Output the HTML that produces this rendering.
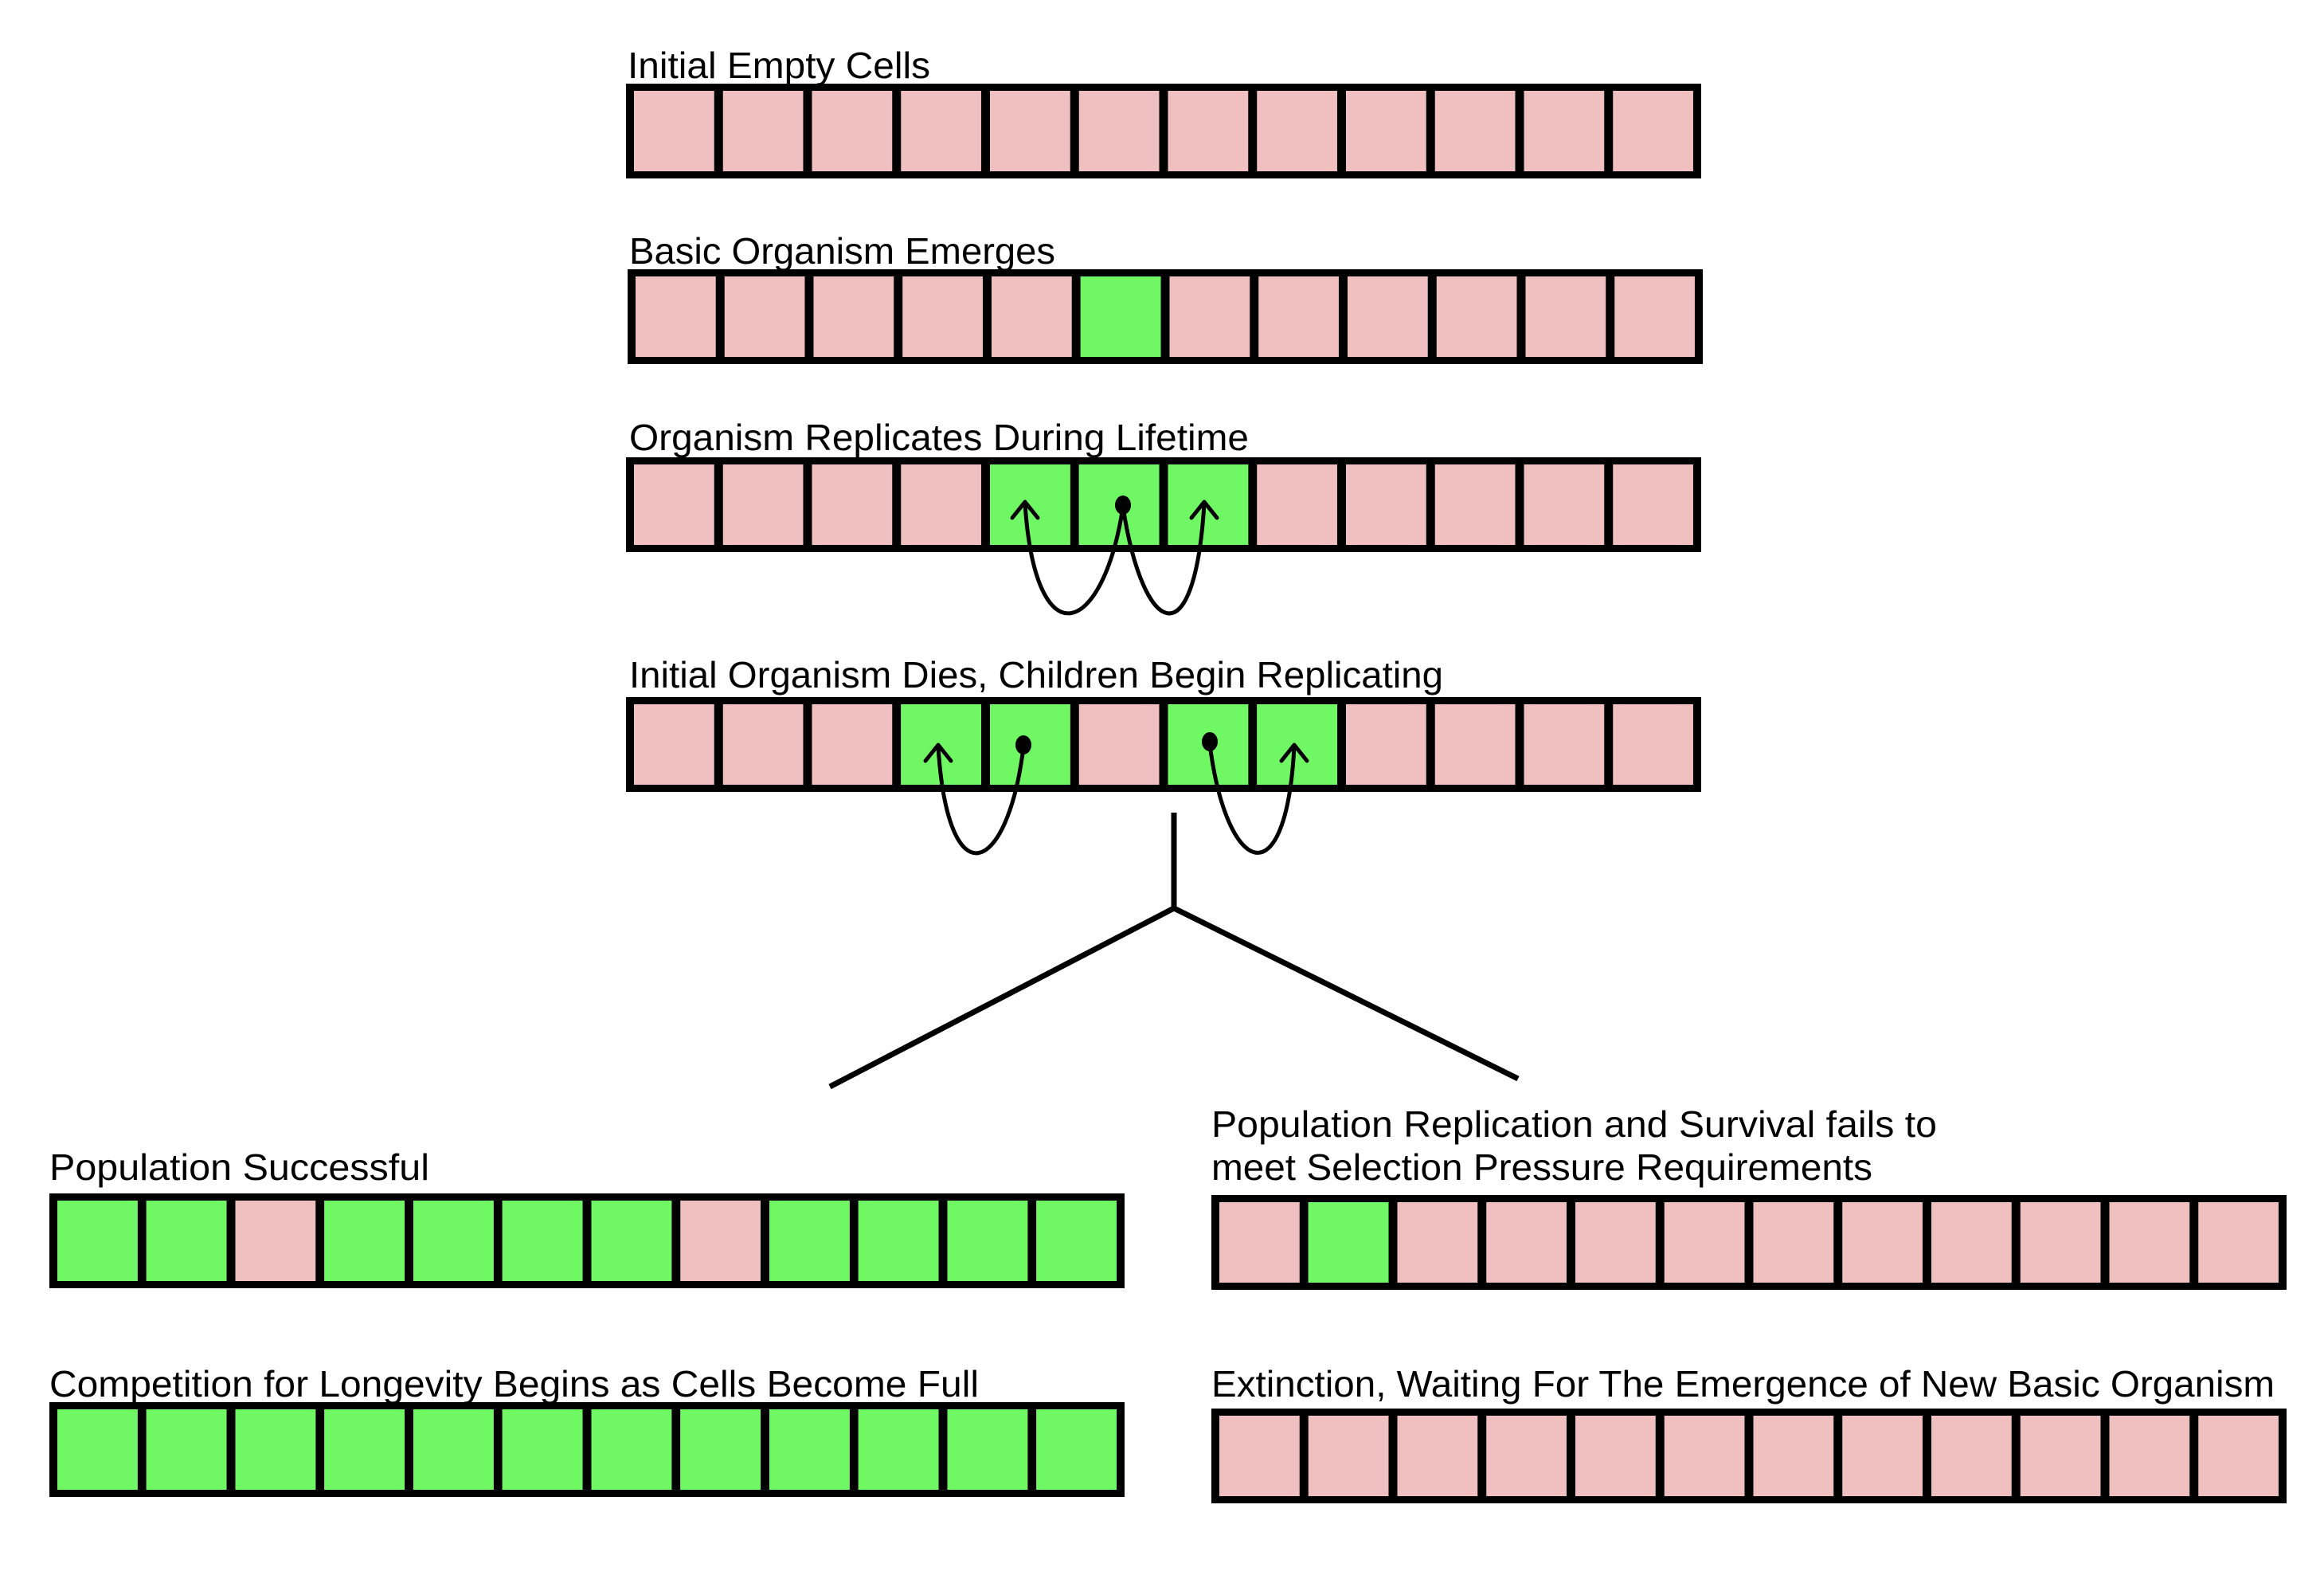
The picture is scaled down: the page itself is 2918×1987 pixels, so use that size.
<!DOCTYPE html>
<html><head><meta charset="utf-8"><style>html,body{margin:0;padding:0;background:#fff}svg{display:block}</style></head>
<body>
<svg width="2918" height="1987" viewBox="0 0 2918 1987" xmlns="http://www.w3.org/2000/svg">
<defs>
<pattern id="p" patternUnits="userSpaceOnUse" x="10" y="0" width="111.75" height="2000">
<rect x="0" y="0" width="100.75" height="2000" fill="#f0c0c0"/>
<rect x="100.75" y="0" width="11" height="2000" fill="#000"/>
</pattern>
<symbol id="bar" overflow="visible">
<rect x="0" y="0" width="1350" height="119" fill="#000"/>
<rect x="10" y="9" width="1330" height="101" fill="url(#p)"/>
</symbol>
</defs>
<g font-family="Liberation Sans, Arial, sans-serif" font-size="46" fill="#000">
<text x="788" y="98" textLength="380" lengthAdjust="spacingAndGlyphs">Initial Empty Cells</text>
<text x="790" y="331" textLength="535" lengthAdjust="spacingAndGlyphs">Basic Organism Emerges</text>
<text x="790" y="565" textLength="778" lengthAdjust="spacingAndGlyphs">Organism Replicates During Lifetime</text>
<text x="790" y="863" textLength="1022" lengthAdjust="spacingAndGlyphs">Initial Organism Dies, Children Begin Replicating</text>
<text x="62" y="1481" textLength="477" lengthAdjust="spacingAndGlyphs">Population Successful</text>
<text x="62" y="1753" textLength="1167" lengthAdjust="spacingAndGlyphs">Competition for Longevity Begins as Cells Become Full</text>
<text x="1521" y="1427" textLength="911" lengthAdjust="spacingAndGlyphs">Population Replication and Survival fails to</text>
<text x="1521" y="1481" textLength="830" lengthAdjust="spacingAndGlyphs">meet Selection Pressure Requirements</text>
<text x="1521" y="1753" textLength="1335" lengthAdjust="spacingAndGlyphs">Extinction, Waiting For The Emergence of New Basic Organism</text>
</g>
<g transform="translate(786,105)"><use href="#bar"/></g>
<g transform="translate(788,338)"><use href="#bar"/>
<rect x="568.75" y="9" width="100.75" height="101" fill="#70f864"/></g>
<g transform="translate(786,574)"><use href="#bar"/>
<rect x="457" y="9" width="100.75" height="101" fill="#70f864"/>
<rect x="568.75" y="9" width="100.75" height="101" fill="#70f864"/>
<rect x="680.5" y="9" width="100.75" height="101" fill="#70f864"/></g>
<g transform="translate(786,875)"><use href="#bar"/>
<rect x="345.25" y="9" width="100.75" height="101" fill="#70f864"/>
<rect x="457" y="9" width="100.75" height="101" fill="#70f864"/>
<rect x="680.5" y="9" width="100.75" height="101" fill="#70f864"/>
<rect x="792.25" y="9" width="100.75" height="101" fill="#70f864"/></g>
<g transform="translate(62,1498)"><use href="#bar"/>
<g fill="#70f864">
<rect x="10" y="9" width="100.75" height="101"/>
<rect x="121.75" y="9" width="100.75" height="101"/>
<rect x="345.25" y="9" width="100.75" height="101"/>
<rect x="457" y="9" width="100.75" height="101"/>
<rect x="568.75" y="9" width="100.75" height="101"/>
<rect x="680.5" y="9" width="100.75" height="101"/>
<rect x="904" y="9" width="100.75" height="101"/>
<rect x="1015.75" y="9" width="100.75" height="101"/>
<rect x="1127.5" y="9" width="100.75" height="101"/>
<rect x="1239.25" y="9" width="100.75" height="101"/>
</g></g>
<g transform="translate(62,1760)"><use href="#bar"/>
<g fill="#70f864">
<rect x="10" y="9" width="100.75" height="101"/>
<rect x="121.75" y="9" width="100.75" height="101"/>
<rect x="233.5" y="9" width="100.75" height="101"/>
<rect x="345.25" y="9" width="100.75" height="101"/>
<rect x="457" y="9" width="100.75" height="101"/>
<rect x="568.75" y="9" width="100.75" height="101"/>
<rect x="680.5" y="9" width="100.75" height="101"/>
<rect x="792.25" y="9" width="100.75" height="101"/>
<rect x="904" y="9" width="100.75" height="101"/>
<rect x="1015.75" y="9" width="100.75" height="101"/>
<rect x="1127.5" y="9" width="100.75" height="101"/>
<rect x="1239.25" y="9" width="100.75" height="101"/>
</g></g>
<g transform="translate(1521,1500)"><use href="#bar"/>
<rect x="121.75" y="9" width="100.75" height="101" fill="#70f864"/></g>
<g transform="translate(1521,1768)"><use href="#bar"/></g>

<g fill="none" stroke="#000" stroke-width="5" stroke-linecap="round" stroke-linejoin="round">
<!-- bar3 loops -->
<path d="M1410 636 C1385 800, 1300 830, 1287 632"/>
<path d="M1410 636 C1435 800, 1500 830, 1512 632"/>
<path d="M1271 650 L1287 630 L1303 650"/>
<path d="M1496 650 L1512 630 L1528 650"/>
<!-- bar4 loops -->
<path d="M1285 938 C1265 1100, 1190 1130, 1178 937"/>
<path d="M1519 934 C1540 1100, 1615 1130, 1625 937"/>
<path d="M1162 955 L1178 935 L1194 955"/>
<path d="M1609 955 L1625 935 L1641 955"/>
</g>
<ellipse cx="1410" cy="634" rx="10" ry="12" fill="#000"/>
<ellipse cx="1285" cy="935" rx="10" ry="12" fill="#000"/>
<ellipse cx="1519" cy="931" rx="10" ry="12" fill="#000"/>

<g fill="none" stroke="#000" stroke-width="7">
<path d="M1474 1020 L1474 1140"/>
<path d="M1474 1140 L1042 1364"/>
<path d="M1474 1140 L1906 1354"/>
</g>
</svg>
</body></html>
